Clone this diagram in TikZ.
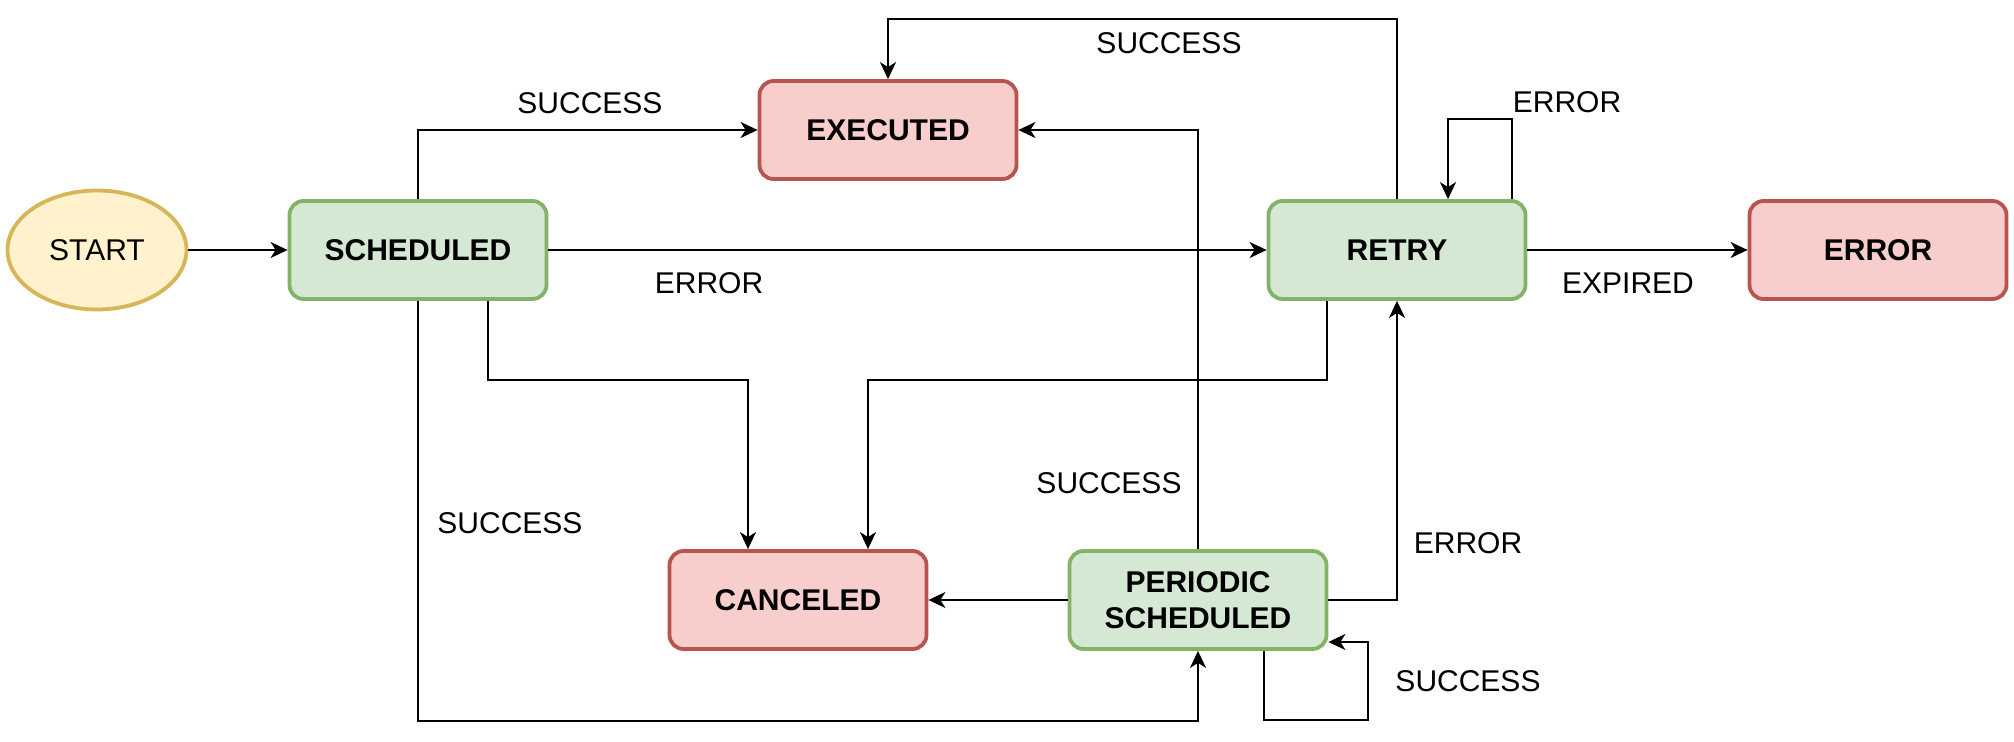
\documentclass[tikz,border=0pt]{standalone}
\usepackage{fontspec}
\setmainfont{Liberation Sans}
\usetikzlibrary{arrows.meta,shapes.geometric}
\definecolor{gfill}{HTML}{D5E8D4}
\definecolor{gdraw}{HTML}{82B366}
\definecolor{rfill}{HTML}{F8CECC}
\definecolor{rdraw}{HTML}{B85450}
\definecolor{yfill}{HTML}{FFF2CC}
\definecolor{ydraw}{HTML}{D6B656}
\tikzset{
  state/.style={rectangle, rounded corners=7pt, minimum width=128.5pt, minimum height=49pt,
    line width=1.9pt, align=center, font=\fontsize{15}{18}\selectfont\bfseries, inner sep=2pt},
  okbox/.style={state, fill=gfill, draw=gdraw},
  endbox/.style={state, fill=rfill, draw=rdraw},
  startnode/.style={ellipse, fill=yfill, draw=ydraw, line width=1.9pt,
    minimum width=89.5pt, minimum height=59.5pt, inner sep=0pt, font=\fontsize{15}{18}\selectfont},
  arr/.style={draw=black, line width=1pt, -{Stealth[length=8.5pt,width=8pt,inset=2.5pt]}},
  lbl/.style={font=\fontsize{15}{18}\selectfont, inner sep=0pt}
}
\begin{document}
\begin{tikzpicture}[x=0.5pt,y=-0.5pt]
\useasboundingbox (0,0) rectangle (2014,742);
% nodes
\node[startnode] (start) at (97,250) {START};
\node[okbox] (sch) at (418,250) {SCHEDULED};
\node[endbox] (exe) at (888,130) {EXECUTED};
\node[okbox] (retry) at (1397,250) {RETRY};
\node[endbox] (err) at (1878,250) {ERROR};
\node[endbox] (can) at (798,600) {CANCELED};
\node[okbox] (per) at (1198,600) {PERIODIC\\SCHEDULED};
% connectors
\draw[arr] (start) -- (sch);
\draw[arr] (sch.north) |- (exe.west);
\draw[arr] (sch) -- (retry);
\draw[arr] ([xshift=35pt]sch.south) -- ++(0,79) -| ([xshift=-25pt]can.north);
\draw[arr] (sch.south) -- ++(0,420) -| (per.south);
\draw[arr] (retry.north) -- ++(0,-180) -| (exe.north);
\draw[arr] ([xshift=57.5pt]retry.north) -- ++(0,-80) -| ([xshift=25.5pt]retry.north);
\draw[arr] (retry) -- (err);
\draw[arr] ([xshift=-35pt]retry.south) -- ++(0,79) -| ([xshift=35pt]can.north);
\draw[arr] (per.north) |- (exe.east);
\draw[arr] (per) -- (can);
\draw[arr] (per.east) -| (retry.south);
\draw[arr] ([xshift=33pt]per.south) -- ++(0,69) -- ++(104,0) |- ([yshift=-21pt]per.east);
% labels
\node[lbl] (l1) at (590,103) {SUCCESS};
\node[lbl] (l2) at (709,283) {ERROR};
\node[lbl] (l3) at (1169,43) {SUCCESS};
\node[lbl] (l4) at (1567,102) {ERROR};
\node[lbl] (l5) at (1628,283) {EXPIRED};
\node[lbl] (l6) at (510,523) {SUCCESS};
\node[lbl] (l7) at (1109,483) {SUCCESS};
\node[lbl] (l8) at (1468,543) {ERROR};
\node[lbl] (l9) at (1468,681) {SUCCESS};
\end{tikzpicture}
\end{document}
